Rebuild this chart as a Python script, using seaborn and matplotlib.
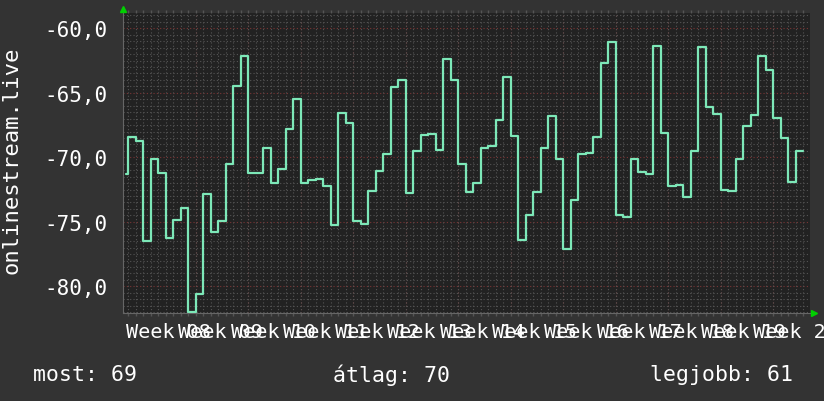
import numpy as np
import pandas as pd
import matplotlib
matplotlib.use("Agg")
import matplotlib.pyplot as plt
import matplotlib.transforms as mtransforms
import seaborn as sns

# ---------------- data ----------------
series_name = "onlinestream.live"
# daily (negative) rank values, step series
rank = [
    -71.27, -68.45, -68.71, -76.46, -70.13, -71.19, -76.23, -74.89, -73.90, -82.00,
    -80.62, -72.82, -75.77, -74.96, -70.49, -64.45, -62.12, -71.24, -71.19, -69.25,
    -72.02, -70.88, -67.78, -65.46, -71.97, -71.73, -71.66, -72.22, -75.25, -66.57,
    -67.32, -74.91, -75.17, -72.59, -71.06, -69.72, -64.52, -63.98, -72.79, -69.49,
    -68.30, -68.22, -69.43, -62.35, -64.03, -70.49, -72.66, -72.02, -69.25, -69.10,
    -67.08, -63.75, -68.37, -76.39, -74.47, -72.66, -69.25, -66.77, -70.16, -77.11,
    -73.31, -69.72, -69.67, -68.45, -62.66, -61.04, -74.47, -74.63, -70.13, -71.11,
    -71.27, -61.37, -68.12, -72.22, -72.12, -73.10, -69.49, -61.45, -66.08, -66.64,
    -72.51, -72.61, -70.16, -67.60, -66.70, -62.15, -63.21, -66.98, -68.48, -71.91,
    -69.49,
]
first_day = -0.35          # first sample starts part-way through a day
week_labels = ["Week 08", "Week 09", "Week 10", "Week 11", "Week 12", "Week 13",
               "Week 14", "Week 15", "Week 16", "Week 17", "Week 18", "Week 19",
               "Week 20"]
y_ticks = [-80, -75, -70, -65, -60]
legend_labels = ["most", "átlag", "legjobb"]

# ---------------- build frame ----------------
n = len(rank)
day = np.concatenate(([first_day], np.arange(n - 1), [n - 1]))
val = np.append(rank, rank[-1])
df = pd.DataFrame({"day": day, "rank": val})

now_v = abs(rank[-1])
avg_v = abs(np.mean(rank))
best_v = abs(max(rank))

# ---------------- style ----------------
sns.set_theme(style="dark")
plt.rcParams['font.family'] = ['DejaVu Sans Mono', 'DejaVu Sans']

W, H = 824, 402
fig = plt.figure(figsize=(W / 100, H / 100), dpi=100, facecolor="#333333")
L, R, T, B = 123, 810, 14, 314.3
ax = fig.add_axes([L / W, 1 - B / H, (R - L) / W, (B - T) / H])
ax.set_facecolor("#222222")

x0 = (L - 128.3) / 7.5
x1 = (R - 128.3) / 7.5
ax.set_xlim(x0, x1)
ax.set_ylim(-82.09, -58.81)

# grids
minor_c = "#555555"
major_c = "#7a3535"
dot = (0, (1, 2))
ax.set_xticks(np.arange(0, int(x1) + 1), minor=True)
ax.set_yticks(np.arange(-82.0, -58.5, 0.5), minor=True)
ax.grid(which="minor", color=minor_c, linestyle=dot, linewidth=0.8)
ax.grid(which="major", visible=False)
for d in range(9, int(x1) + 1, 7):
    ax.axvline(d, color=major_c, linestyle=dot, linewidth=0.8, zorder=0.5)
for yv in y_ticks:
    ax.axhline(yv, color=major_c, linestyle=dot, linewidth=0.8, zorder=0.5)

# data line
sns.lineplot(data=df, x="day", y="rank", drawstyle="steps-post",
             color="#7de8b8", linewidth=1.6, ax=ax, legend=False, zorder=3)

# ticks / labels
label_pos = [-0.3 + 6.97 * i for i in range(len(week_labels))]
ax.set_xticks(label_pos)
ax.set_xticklabels(week_labels, ha="left")
ax.set_yticks(y_ticks)
ax.set_yticklabels([f"{v:.1f}".replace(".", ",") for v in y_ticks])
ax.tick_params(axis="both", which="major", length=0, labelcolor="white")
ax.tick_params(axis="x", which="major", pad=6.5, labelsize=14.5)
ax.tick_params(axis="y", which="major", pad=11, labelsize=15)
ax.tick_params(axis="x", which="minor", length=2, color=minor_c,
               direction="out", top=True, bottom=True)
ax.tick_params(axis="y", which="minor", length=0)
ax.set_xlabel("")
ax.set_ylabel(series_name, color="white", fontsize=16, va="center")
ax.yaxis.set_label_coords((12 - L) / (R - L), (B - 160.5) / (B - T))

for s in ["top", "right"]:
    ax.spines[s].set_visible(False)
for s in ["left", "bottom"]:
    ax.spines[s].set_visible(True)
    ax.spines[s].set_color("#666666")
    ax.spines[s].set_linewidth(0.8)

# axis arrows
tr_up = mtransforms.offset_copy(ax.transAxes, fig=fig, x=0.5, y=4, units="dots")
ax.plot([0], [1], marker="^", ms=5, color="#00d000", transform=tr_up,
        clip_on=False, zorder=5)
tr_rt = mtransforms.offset_copy(ax.transAxes, fig=fig, x=4, y=0, units="dots")
ax.plot([1], [0], marker=">", ms=5, color="#00d000", transform=tr_rt,
        clip_on=False, zorder=5)

# footer legend
fy = 1 - 375 / H
fig.text(33 / W, fy, f"{legend_labels[0]}: {now_v:.0f}", color="white",
         fontsize=15.5, va="center", ha="left")
fig.text(333 / W, fy, f"{legend_labels[1]}: {avg_v:.0f}", color="white",
         fontsize=15.5, va="center", ha="left")
fig.text(650 / W, fy, f"{legend_labels[2]}: {best_v:.0f}", color="white",
         fontsize=15.5, va="center", ha="left")

fig.savefig("out.png", dpi=100, facecolor=fig.get_facecolor())
